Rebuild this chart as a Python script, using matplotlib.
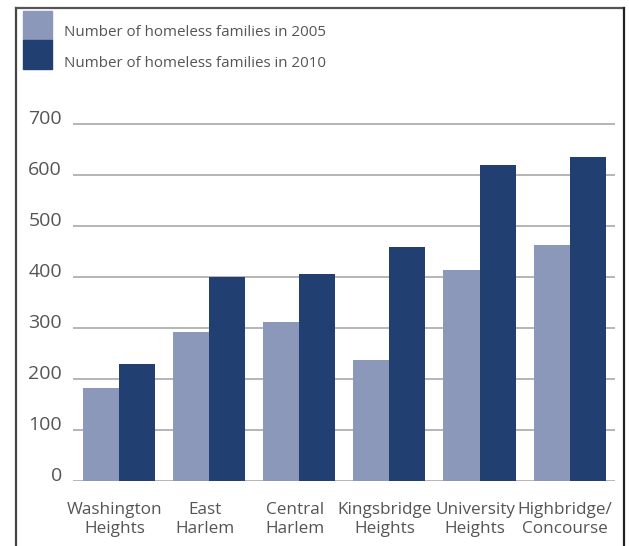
import matplotlib
matplotlib.use("Agg")
import numpy as np
import matplotlib.pyplot as plt
from matplotlib.lines import Line2D
from matplotlib.patches import Rectangle

plt.rcParams['font.family'] = ['Open Sans', 'DejaVu Sans']

# data
neighborhoods = ["Washington\nHeights", "East\nHarlem", "Central\nHarlem",
                 "Kingsbridge\nHeights", "University\nHeights", "Highbridge/\nConcourse"]
families_2005 = [181, 291, 311, 237, 413, 462]
families_2010 = [229, 399, 406, 459, 619, 635]
yticks = [0, 100, 200, 300, 400, 500, 600, 700]
series_labels = ["Number of homeless families in 2005", "Number of homeless families in 2010"]

c2005 = '#8c98ba'
c2010 = '#213f70'
txt = '#555555'

W, H = 629, 546
fig = plt.figure(figsize=(W / 100, H / 100), dpi=100)

# axes placed in pixel terms
ax_l, ax_r = 73, 615
ax_b = 480.7
ax_t = ax_b - 7.1 * 50.96
ax = fig.add_axes([ax_l / W, (H - ax_b) / H, (ax_r - ax_l) / W, (ax_b - ax_t) / H])

x = np.arange(len(neighborhoods))
bw = 0.4
ax.bar(x - bw / 2, families_2005, bw, color=c2005, zorder=3)
ax.bar(x + bw / 2, families_2010, bw, color=c2010, zorder=3)

ax.set_xlim(-0.511, 5.503)
ax.set_ylim(0, 710)
ax.set_yticks(yticks)
ax.grid(True, axis='y', color='#b0b0b0', linewidth=1.3, zorder=0)
ax.set_axisbelow(True)
for s in ax.spines.values():
    s.set_visible(False)
ax.tick_params(axis='y', length=0, pad=8, labelsize=14, labelcolor=txt)
for lab in ax.get_yticklabels():
    lab.set_va('baseline')
ax.set_xticks(x - 0.05)
ax.set_xticklabels(neighborhoods, fontsize=12.3, color=txt, linespacing=1.3)
ax.tick_params(axis='x', length=0, pad=15)

# outer frame lines (left, top, right)
def px(xp, yp):
    return xp / W, 1 - yp / H

fig.add_artist(Line2D([15.5 / W, 15.5 / W], [0, 1 - 7.5 / H], color='#444444', lw=1.6))
fig.add_artist(Line2D([15.5 / W, 623.5 / W], [1 - 7.5 / H, 1 - 7.5 / H], color='#555555', lw=1.6))
fig.add_artist(Line2D([623.5 / W, 623.5 / W], [0, 1 - 7.5 / H], color='#222222', lw=1.6))

# legend
for i, (lab, col) in enumerate(zip(series_labels, [c2005, c2010])):
    y0 = 10.7 + i * 29.3
    fig.add_artist(Rectangle(px(22.7, y0 + 28.8), 29 / W, 28.8 / H, color=col, transform=fig.transFigure))
    fig.text(64 / W, 1 - (36 + i * 31) / H, lab, fontsize=10.9, color=txt, va='baseline', ha='left')

fig.savefig("out.png", dpi=100)
